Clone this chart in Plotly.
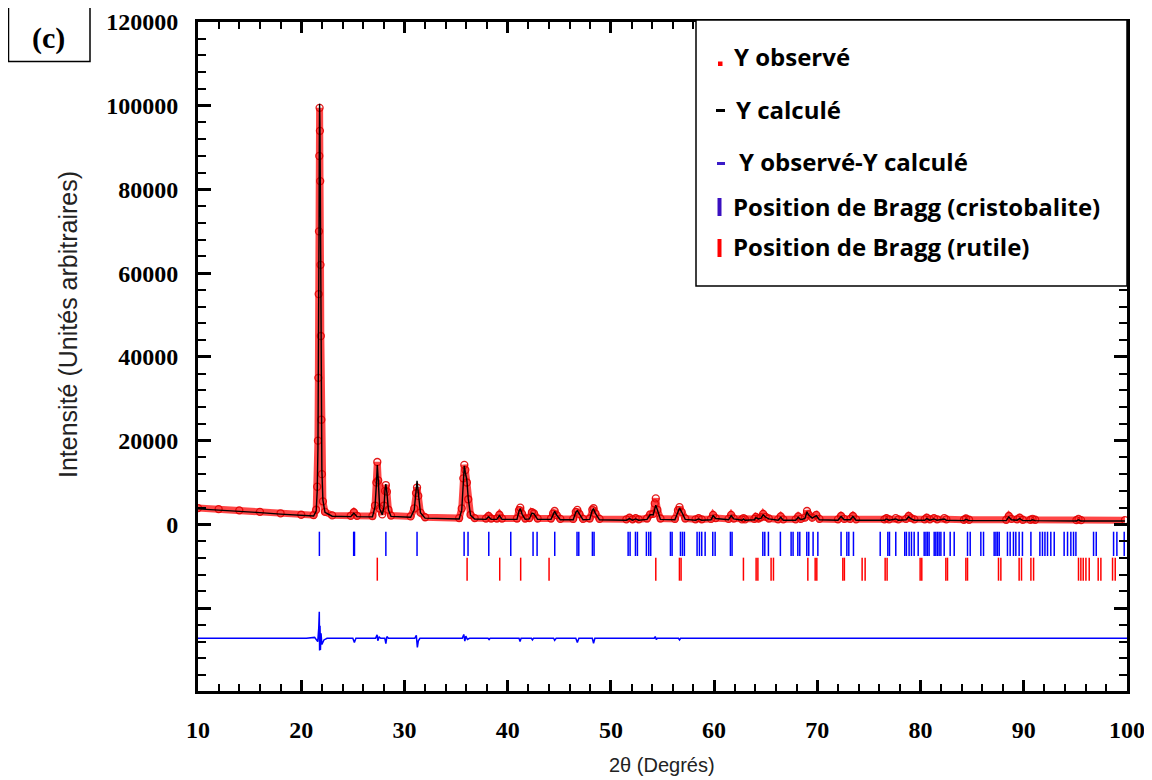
import plotly.graph_objects as go

# ---------------- data ----------------
two_theta = [
    10.0, 12.0, 14.0, 16.0, 18.0, 20.0, 21.2, 21.45, 21.55, 21.62,
    21.66, 21.69, 21.72, 21.75, 21.78, 21.81, 21.84, 21.87, 21.90, 21.95,
    22.00, 22.10, 22.30, 23.0, 24.8, 25.1, 25.4, 26.9, 27.15, 27.28,
    27.37, 27.46, 27.6, 27.85, 28.02, 28.12, 28.2, 28.3, 28.45, 28.7,
    30.6, 30.95, 31.12, 31.22, 31.34, 31.55, 32.0, 35.3, 35.55, 35.7,
    35.8, 35.9, 36.05, 36.18, 36.4, 36.8, 37.9, 38.15, 38.4, 38.95,
    39.2, 39.45, 40.9, 41.1, 41.22, 41.4, 41.7, 42.1, 42.35, 42.55,
    42.9, 44.2, 44.4, 44.55, 44.75, 45.1, 46.35, 46.6, 46.75, 46.95,
    47.3, 47.95, 48.2, 48.32, 48.5, 48.9, 51.5, 51.8, 52.1, 52.4,
    52.7, 53.5, 53.8, 54.1, 54.25, 54.35, 54.5, 54.8, 56.2, 56.5,
    56.65, 56.85, 57.2, 58.2, 58.5, 58.8, 59.7, 59.9, 60.15, 61.4,
    61.65, 61.9, 62.7, 62.85, 63.0, 63.9, 64.05, 64.3, 64.55, 64.75,
    65.0, 65.3, 66.2, 66.45, 66.7, 67.9, 68.15, 68.4, 68.8, 69.0,
    69.15, 69.5, 69.9, 70.2, 72.0, 72.3, 72.6, 73.2, 73.45, 73.75,
    76.5, 76.7, 76.95, 77.6, 77.85, 78.6, 78.85, 79.1, 79.4, 80.4,
    80.6, 80.9, 81.3, 81.6, 82.3, 82.5, 84.2, 84.4, 84.7, 88.3,
    88.55, 88.8, 89.35, 89.6, 89.9, 90.65, 90.85, 91.1, 95.1, 95.3,
    95.55, 99.8,
]
y_observed = [
    3900, 3650, 3350, 3000, 2650, 2300, 2200, 3500, 9000, 20000,
    35000, 55000, 70000, 88000, 99500, 94000, 82000, 62000, 45000, 25000,
    12000, 5500, 3000, 2150, 2050, 2900, 2050, 2000, 4500, 10000,
    14900, 10500, 3800, 2400, 4500, 8000, 9400, 7800, 3500, 2100,
    1900, 3800, 7500, 8800, 6800, 2800, 1700, 1500, 3800, 11000,
    14200, 13000, 10000, 6000, 2300, 1500, 1400, 2000, 1400, 1400,
    2300, 1400, 1400, 3400, 4000, 2500, 1400, 1500, 2900, 2600,
    1400, 1400, 2600, 3200, 2200, 1300, 1300, 3000, 3450, 2500,
    1300, 1400, 3500, 3850, 2600, 1300, 1200, 1600, 1200, 1500,
    1200, 1400, 2400, 2500, 5000, 6200, 3500, 1400, 1300, 3400,
    4100, 3000, 1400, 1200, 1500, 1200, 1300, 2250, 1500, 1300,
    2250, 1400, 1200, 1500, 1200, 1300, 1800, 1400, 1700, 2500,
    1800, 1400, 1200, 1900, 1200, 1200, 1900, 1300, 1600, 3200,
    2400, 1600, 2250, 1300, 1200, 2000, 1300, 1300, 2000, 1200,
    1200, 1500, 1200, 1500, 1200, 1300, 2000, 1500, 1200, 1200,
    1600, 1200, 1500, 1200, 1500, 1200, 1100, 1400, 1100, 1100,
    2000, 1300, 1200, 1600, 1100, 1100, 1300, 1100, 1000, 1300,
    1000, 1000,
]
y_calculated = [
    3700, 3450, 3150, 2800, 2450, 2100, 2000, 3200, 8000, 18000,
    32000, 50000, 68000, 90000, 100500, 96000, 85000, 66000, 48000, 27000,
    13000, 5800, 2900, 1950, 1850, 2700, 1850, 1800, 4200, 9500,
    14200, 10800, 3700, 2300, 4200, 8300, 9650, 7600, 3400, 1900,
    1700, 3500, 8200, 10400, 7600, 2800, 1500, 1300, 3400, 10500,
    14000, 12400, 10500, 6200, 2200, 1300, 1200, 1800, 1200, 1200,
    2100, 1200, 1200, 3200, 3800, 2400, 1200, 1300, 2700, 2500,
    1200, 1200, 2500, 3100, 2200, 1100, 1100, 2900, 3300, 2500,
    1100, 1200, 3400, 3700, 2600, 1100, 1000, 1400, 1000, 1300,
    1000, 1200, 2300, 2300, 4200, 4600, 3500, 1200, 1100, 3300,
    3900, 3000, 1200, 1000, 1300, 1000, 1100, 2100, 1400, 1100,
    2100, 1300, 1000, 1300, 1000, 1100, 1600, 1300, 1500, 2300,
    1700, 1300, 1000, 1700, 1000, 1000, 1700, 1100, 1400, 3000,
    2300, 1500, 2100, 1100, 1000, 1900, 1100, 1100, 1900, 1000,
    1000, 1300, 1000, 1300, 1000, 1100, 1800, 1300, 1000, 1000,
    1400, 1000, 1300, 1000, 1300, 1000, 900, 1200, 900, 900,
    1800, 1100, 1000, 1400, 900, 900, 1100, 900, 800, 1100,
    800, 800,
]

# difference curve (Y observé - Y calculé)
diff_theta = [
    10.0, 20.5, 21.3, 21.6, 21.7, 21.75, 21.78, 21.82, 21.86, 21.92,
    22.0, 22.2, 22.5, 25.0, 25.15, 25.3, 27.2, 27.35, 27.42, 27.55,
    27.7, 28.1, 28.2, 28.3, 28.45, 31.0, 31.15, 31.25, 31.35, 31.5,
    35.6, 35.75, 35.85, 35.95, 36.1, 36.3, 38.1, 38.2, 38.3, 41.1,
    41.2, 41.3, 42.3, 42.4, 42.5, 44.45, 44.55, 44.7, 46.6, 46.75,
    46.9, 48.2, 48.32, 48.45, 54.2, 54.3, 54.4, 54.5, 56.55, 56.65,
    56.75, 100.0,
]
diff_values = [
    0, 0, 200, -800, 2500, 6300, -2900, 3000, -2800, 1200,
    -1500, -400, 0, 0, -1000, 0, 0, 800, -600, 300,
    0, 0, -1300, 400, 0, 0, 700, -2200, -600, 0,
    0, 900, -700, 500, -300, 0, 0, -300, 0, 0,
    -800, 0, 0, -400, 0, 0, -500, 0, 0, -1000,
    0, 0, -1200, 0, 0, 400, -300, 0, 0, -400,
    0, 0,
]
DIFF_OFFSET = -27200

# Bragg positions (2theta)
bragg_cristobalite = [
    21.76, 25.08, 25.16, 28.2, 31.22, 35.78, 36.16, 38.17, 40.3, 42.46,
    42.85, 44.56, 46.72, 46.89, 48.21, 48.37, 51.67, 51.86, 52.38, 52.57,
    53.44, 53.67, 53.86, 55.77, 55.93, 56.74, 56.93, 57.12, 58.35, 58.58,
    58.8, 59.13, 59.87, 60.1, 61.58, 61.74, 64.72, 64.91, 65.26, 66.42,
    67.46, 67.65, 68.11, 68.3, 68.98, 69.17, 69.59, 70.05, 72.3, 72.86,
    73.05, 73.5, 76.09, 76.83, 76.99, 77.6, 78.47, 78.63, 78.89, 79.12,
    79.38, 79.77, 80.35, 80.52, 80.67, 80.83, 81.32, 81.48, 81.64, 81.8,
    81.97, 82.29, 82.87, 83.26, 84.55, 84.81, 85.84, 86.1, 87.13, 87.3,
    87.45, 87.62, 88.42, 88.68, 89.0, 89.23, 89.55, 89.87, 90.69, 91.56,
    91.81, 92.05, 92.3, 92.62, 92.95, 93.91, 94.24, 94.56, 94.82, 95.05,
    96.76, 97.02, 98.7, 99.02, 99.73,
]
bragg_rutile = [
    27.37, 36.07, 39.23, 41.26, 44.01, 54.35, 56.64, 56.8, 62.84, 64.07,
    64.24, 65.52, 65.75, 69.08, 69.79, 69.95, 72.47, 72.62, 74.34, 74.63,
    76.57, 76.76, 79.96, 80.12, 82.45, 82.61, 84.39, 84.55, 87.55, 87.78,
    89.55, 89.78, 90.69, 90.95, 95.3, 95.53, 95.76, 96.02, 96.34, 97.21,
    97.47, 98.6, 98.86,
]
CRISTO_ROW = (-1750, -7550)
RUTILE_ROW = (-7950, -13450)

x_ticks = [10, 20, 30, 40, 50, 60, 70, 80, 90, 100]
y_ticks = [-20000, 0, 20000, 40000, 60000, 80000, 100000, 120000]
y_tick_text = ["", "0", "20000", "40000", "60000", "80000", "100000", "120000"]

legend_labels = [
    "Y observé",
    "Y calculé",
    "Y observé-Y calculé",
    "Position de Bragg (cristobalite)",
    "Position de Bragg (rutile)",
]

assert len(two_theta) == len(y_observed) == len(y_calculated)
assert len(diff_theta) == len(diff_values)

# ---------------- figure ----------------
# the page body has an 8px margin; work in window pixels and shift
OFF = 8
W, H = 1152 - OFF, 780 - OFF
L, R, T, B = 198 - OFF, 1127 - OFF, 22 - OFF, 691 - OFF


def fx(px):
    return (px - OFF - L) / (R - L)


def fy(py):
    return (B - (py - OFF)) / (B - T)


def bragg_xy(pos, row):
    xs, ys = [], []
    for p in pos:
        xs += [p, p, None]
        ys += [row[0], row[1], None]
    return xs, ys


fig = go.Figure()

fig.add_trace(go.Scatter(
    x=two_theta, y=y_observed, mode="lines+markers",
    line=dict(color="rgba(255,0,0,0.72)", width=7),
    marker=dict(symbol="circle-open", size=7, color="rgba(225,0,0,0.9)",
                line=dict(width=1.3)),
    name=legend_labels[0], showlegend=False,
))
fig.add_trace(go.Scatter(
    x=two_theta, y=y_calculated, mode="lines",
    line=dict(color="black", width=1.4),
    name=legend_labels[1], showlegend=False,
))
fig.add_trace(go.Scatter(
    x=diff_theta, y=[d + DIFF_OFFSET for d in diff_values], mode="lines",
    line=dict(color="rgb(0,0,255)", width=1.5),
    name=legend_labels[2], showlegend=False,
))
cx, cy = bragg_xy(bragg_cristobalite, CRISTO_ROW)
fig.add_trace(go.Scatter(
    x=cx, y=cy, mode="lines", line=dict(color="rgb(0,0,255)", width=1.5),
    name=legend_labels[3], showlegend=False,
))
rx, ry = bragg_xy(bragg_rutile, RUTILE_ROW)
fig.add_trace(go.Scatter(
    x=rx, y=ry, mode="lines", line=dict(color="rgb(255,0,0)", width=1.5),
    name=legend_labels[4], showlegend=False,
))

tickfont = dict(family="Liberation Serif", size=24, color="black", weight="bold")

fig.update_xaxes(
    range=[10, 100], tickvals=x_ticks, ticks="inside", ticklen=11, tickwidth=3,
    tickcolor="black", showline=True, linewidth=3, linecolor="black",
    mirror="ticks", showgrid=False, zeroline=False, tickfont=tickfont,
    ticklabelstandoff=15, automargin=False,
    minor=dict(dtick=2, tick0=10, ticks="inside", ticklen=7, tickwidth=1.5,
               tickcolor="black", showgrid=False),
)
fig.update_yaxes(
    range=[-39800, 120000], tickvals=y_ticks, ticktext=y_tick_text,
    ticks="inside", ticklen=13, tickwidth=3, tickcolor="black",
    showline=True, linewidth=3, linecolor="black", mirror="ticks",
    showgrid=False, zeroline=False, tickfont=tickfont, ticklabelstandoff=12,
    automargin=False,
    minor=dict(dtick=4000, tick0=0, ticks="inside", ticklen=8, tickwidth=1.5,
               tickcolor="black", showgrid=False),
)

shapes = []
annotations = []

# legend box
shapes.append(dict(type="rect", xref="paper", yref="paper",
                   x0=fx(696), x1=fx(1127), y0=fy(286), y1=fy(20),
                   line=dict(color="black", width=1.5), fillcolor="white",
                   layer="above"))
# legend symbols
shapes.append(dict(type="rect", xref="paper", yref="paper",
                   x0=fx(718), x1=fx(722.5), y0=fy(66), y1=fy(61.5),
                   line=dict(width=0), fillcolor="red", layer="above"))
shapes.append(dict(type="line", xref="paper", yref="paper",
                   x0=fx(716), x1=fx(725), y0=fy(110.5), y1=fy(110.5),
                   line=dict(color="black", width=3), layer="above"))
shapes.append(dict(type="line", xref="paper", yref="paper",
                   x0=fx(717), x1=fx(725), y0=fy(163.5), y1=fy(163.5),
                   line=dict(color="#3a1cc8", width=3), layer="above"))
shapes.append(dict(type="line", xref="paper", yref="paper",
                   x0=fx(719.5), x1=fx(719.5), y0=fy(198), y1=fy(216),
                   line=dict(color="#3a10c0", width=4), layer="above"))
shapes.append(dict(type="line", xref="paper", yref="paper",
                   x0=fx(719.5), x1=fx(719.5), y0=fy(239), y1=fy(257),
                   line=dict(color="red", width=4), layer="above"))

legend_pos = [(732, 57), (734, 109), (737, 161), (731, 206), (731, 247)]
for (px, py), lab in zip(legend_pos, legend_labels):
    annotations.append(dict(
        x=fx(px), y=fy(py), xref="paper", yref="paper", text=lab,
        showarrow=False, xanchor="left", yanchor="middle",
        font=dict(family="Open Sans", size=24, color="black", weight="bold"),
    ))

# (c) panel label
shapes.append(dict(type="rect", xref="paper", yref="paper",
                   x0=fx(8.5), x1=fx(90), y0=fy(61.5), y1=fy(6),
                   line=dict(color="black", width=1.5), fillcolor="white",
                   layer="above"))
annotations.append(dict(
    x=fx(48), y=fy(38), xref="paper", yref="paper", text="(c)",
    showarrow=False, xanchor="center", yanchor="middle",
    font=dict(family="Liberation Serif", size=30, color="black", weight="bold"),
))

# axis titles
annotations.append(dict(
    x=fx(68), y=fy(325), xref="paper", yref="paper",
    text="Intensité (Unités arbitraires)", textangle=-90, showarrow=False,
    xanchor="center", yanchor="middle",
    font=dict(family="Liberation Sans", size=25, color="#222222"),
))
annotations.append(dict(
    x=fx(662), y=fy(765), xref="paper", yref="paper",
    text="2θ (Degrés)", showarrow=False,
    xanchor="center", yanchor="middle",
    font=dict(family="Liberation Sans", size=20, color="#222222"),
))

fig.update_layout(
    width=W, height=H,
    margin=dict(l=L, r=W - R, t=T, b=H - B, pad=0, autoexpand=False),
    paper_bgcolor="white", plot_bgcolor="white",
    shapes=shapes, annotations=annotations, showlegend=False,
)

fig.write_html("out.html")
